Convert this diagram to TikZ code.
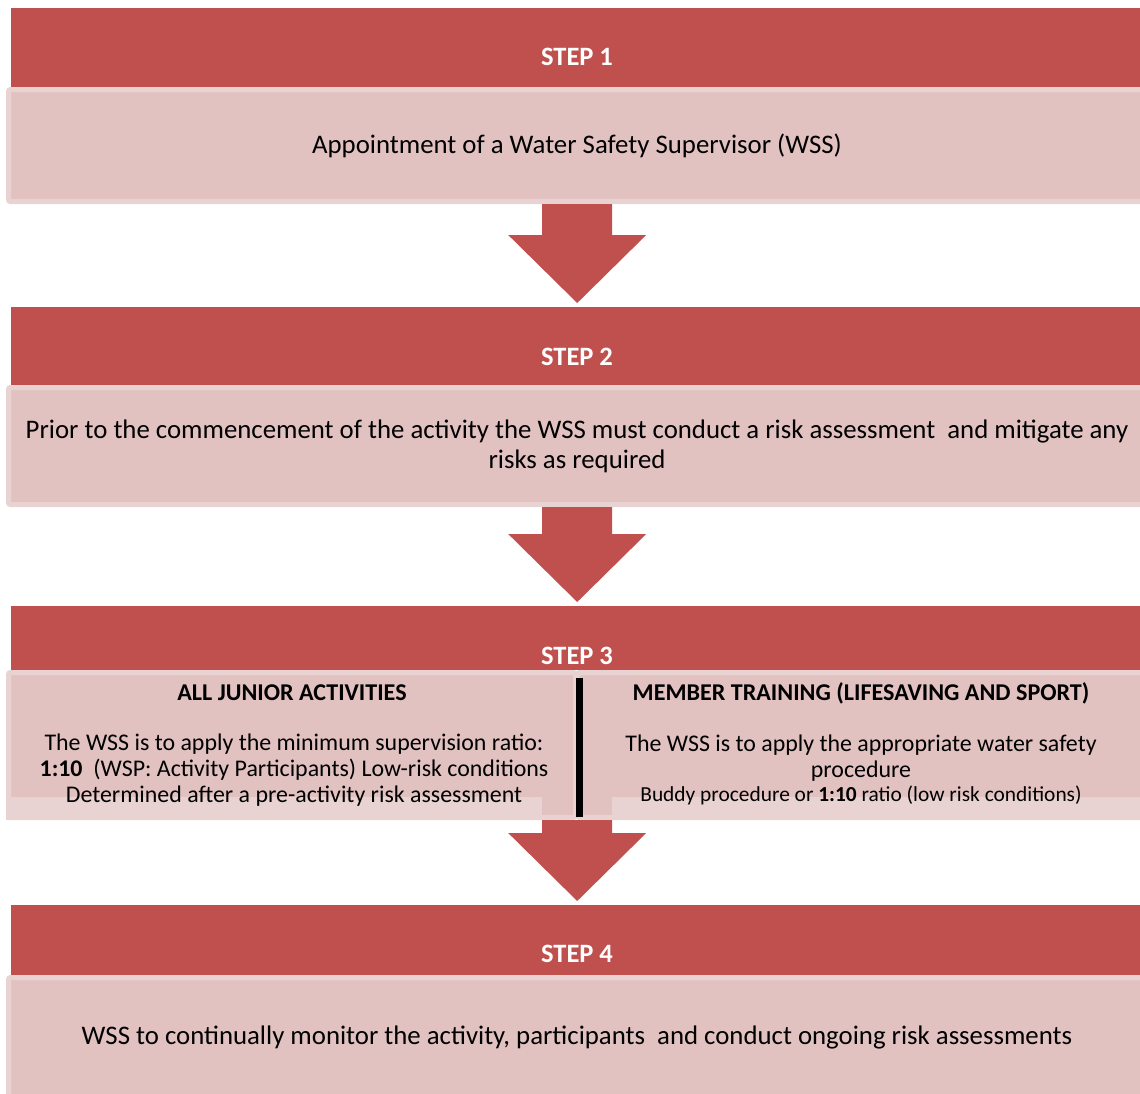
\documentclass[tikz,border=0pt]{standalone}
\usepackage{fontspec}
\setmainfont{Carlito}
\usepackage{tikz}
\usetikzlibrary{calc}
\definecolor{stepred}{HTML}{C0504D}
\definecolor{stepbody}{HTML}{E1C2C1}
\definecolor{stepedge}{HTML}{E9D3D2}

\begin{document}
\begin{tikzpicture}[x=1pt,y=-1pt]
      \tikzstyle{head} = [rectangle, fill=stepred, anchor=north west, inner sep=0pt, minimum width=1132pt]
      \tikzstyle{steplabel} = [text=white, inner sep=0pt, font=\fontsize{26.5}{30}\selectfont\bfseries]
      \tikzstyle{body} = [rectangle, fill=stepbody, draw=stepedge, line width=5pt, rounded corners=2pt, anchor=north west, align=center, font=\fontsize{26.8}{30}\selectfont]
      \tikzstyle{subhead} = [inner sep=0pt, font=\fontsize{24.1}{26}\selectfont\bfseries]
      \tikzstyle{subtext} = [inner sep=0pt, align=center, font=\fontsize{23.9}{26}\selectfont]
      \tikzstyle{strip} = [fill=stepedge]
      \tikzstyle{divider} = [line width=7pt, black]
      \tikzstyle{downarrow} = [fill=stepred]
      \useasboundingbox (0,0) rectangle (1140,1093);
      % step 1
      \node (h1) [head, minimum height=79pt] at (11,8) {};
      \node (s1) [steplabel] at (577,57) {STEP 1};
      \node (b1) [body, minimum width=1137pt, minimum height=112pt] at (6,87) {Appointment of a Water Safety Supervisor (WSS)};
      % step 2
      \node (h2) [head, minimum height=78pt] at (11,307) {};
      \node (s2) [steplabel] at (577,357) {STEP 2};
      \node (b2) [body, minimum width=1137pt, minimum height=117pt] at (6,385) {Prior to the commencement of the activity the WSS must conduct a risk assessment\ \ and mitigate any\\risks as required};
      % step 3
      \node (h3) [head, minimum height=64pt] at (11,606) {};
      \node (b3l) [body, minimum width=567pt, minimum height=145pt] at (6,670) {};
      \node (b3r) [body, minimum width=565pt, minimum height=145pt] at (575,670) {};
      \fill[strip] (6,797) rectangle (542,820);
      \fill[strip] (612,797) rectangle (1140,820);
      \node (s3) [steplabel] at (577,656) {STEP 3};
      \draw[divider] ($(b3l.north east)+(1.5,8)$) -- ($(b3l.south east)+(1.5,-3)$);
      \node (jr) [subhead] at (292,693) {ALL JUNIOR ACTIVITIES};
      \node (jrtext) [subtext] at (294,770) {The WSS is to apply the minimum supervision ratio:\\\textbf{1:10}\ \ (WSP: Activity Participants) Low-risk conditions\\Determined after a pre-activity risk assessment};
      \node (mt) [subhead] at (861,693) {MEMBER TRAINING (LIFESAVING AND SPORT)};
      \node (mttext) [subtext] at (861,758) {The WSS is to apply the appropriate water safety\\procedure};
      \node (buddy) [subtext, font=\fontsize{21.4}{24}\selectfont] at (861,795) {Buddy procedure or \textbf{1:10} ratio (low risk conditions)};
      % step 4
      \node (h4) [head, minimum height=70pt] at (11,905) {};
      \node (s4) [steplabel] at (577,954) {STEP 4};
      \node (b4) [body, minimum width=1137pt, minimum height=120pt] at (6,975) {WSS to continually monitor the activity, participants\ \ and conduct ongoing risk assessments};
      % arrows
      \foreach \a/\b in {b1/h2, b2/h3, b3l/h4}
        \fill[downarrow] ($(\a.south -| \b.north)+(-35,0)$) -- ($(\b.north)+(-35,-72)$) -- ($(\b.north)+(-69,-72)$)
          -- ($(\b.north)+(0,-4)$) -- ($(\b.north)+(69,-72)$) -- ($(\b.north)+(35,-72)$) -- ($(\a.south -| \b.north)+(35,0)$) -- cycle;
    \end{tikzpicture}
\end{document}
